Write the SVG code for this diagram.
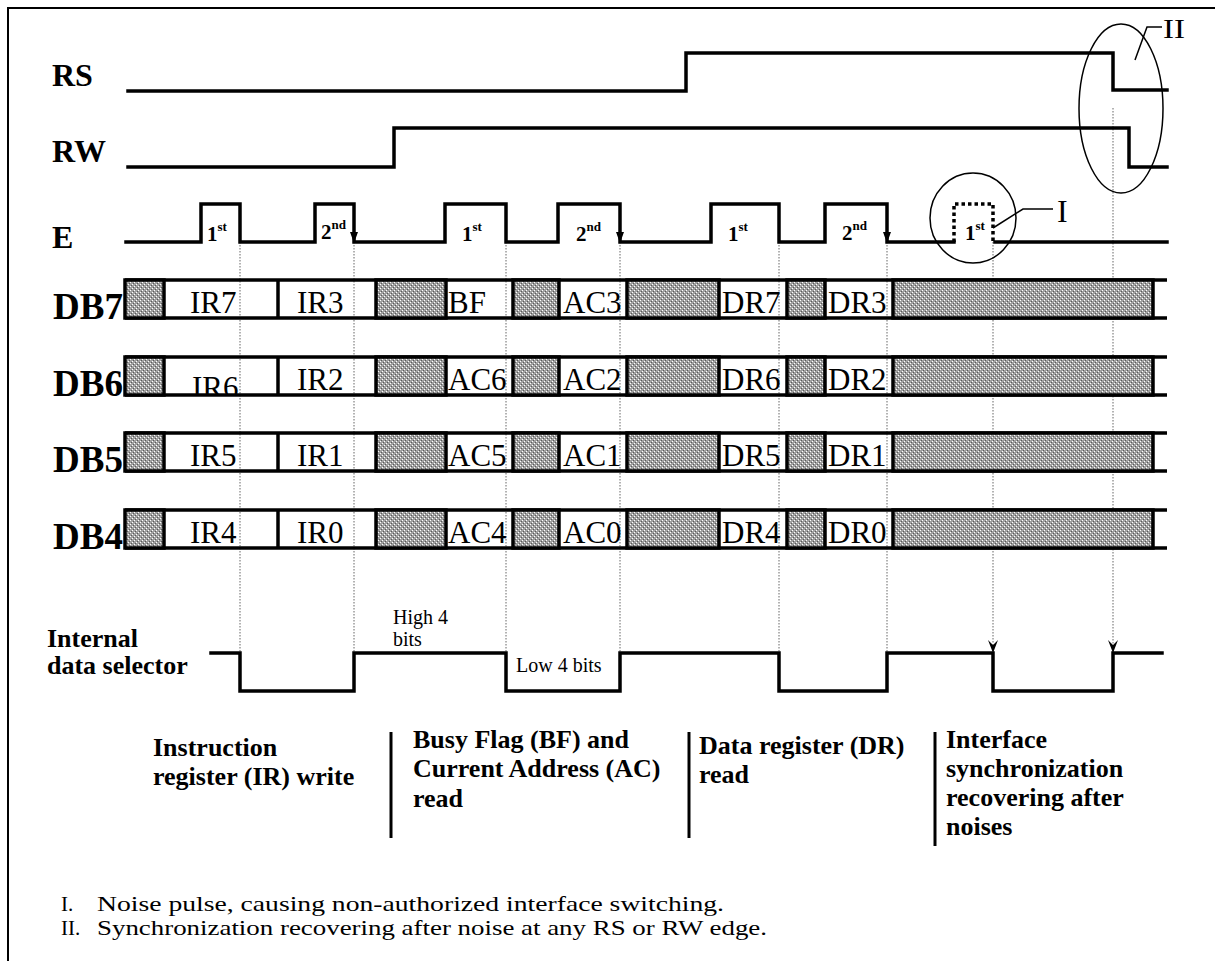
<svg xmlns="http://www.w3.org/2000/svg" xmlns:xlink="http://www.w3.org/1999/xlink" width="1215" height="961" viewBox="0 0 1215 961">
<style>
.sig{fill:none;stroke:#000;stroke-width:3.5;stroke-linejoin:miter;stroke-linecap:square}
.bus{stroke:#000;stroke-width:3.5}
.hatch{fill:url(#hatch);stroke:#000;stroke-width:3.5}
.guide{fill:none;stroke:#666;stroke-width:1;stroke-dasharray:1.5 1.5}
.lbl{font-family:"Liberation Serif","Times New Roman",serif;font-weight:bold;font-size:32px;fill:#000}
.dbl{font-family:"Liberation Serif","Times New Roman",serif;font-weight:bold;font-size:37px;fill:#000}
.bt{font-family:"Liberation Serif","Times New Roman",serif;font-size:31px;fill:#000}
.pn{font-family:"Liberation Serif","Times New Roman",serif;font-weight:bold;font-size:21px;fill:#000}
.ps{font-size:13px}
.sm{font-family:"Liberation Serif","Times New Roman",serif;font-size:20px;fill:#000}
.cap{font-family:"Liberation Serif","Times New Roman",serif;font-weight:bold;font-size:26px;fill:#000}
.leg{font-family:"Liberation Serif","Times New Roman",serif;font-size:21px;fill:#000}
.ann{fill:none;stroke:#000;stroke-width:1.5}
.bar{stroke:#000;stroke-width:3}
</style>
<defs>
<pattern id="hatch" width="4" height="4" patternUnits="userSpaceOnUse">
<rect width="4" height="4" fill="#a0a0a0"/>
<rect x="0" y="0" width="1" height="1" fill="#fff"/>
<rect x="2" y="2" width="1" height="1" fill="#fff"/>
<rect x="1" y="3" width="1" height="1" fill="#5a5a5a"/>
<rect x="3" y="1" width="1" height="1" fill="#5a5a5a"/>
</pattern>
<polygon id="ahE" points="-4,-10 4,-10 0,1" fill="#000"/>
<marker id="vArrow" viewBox="-6 -14 12 15" markerWidth="12" markerHeight="15" refX="0" refY="0" orient="0" markerUnits="userSpaceOnUse">
<path d="M-5,-13 L0,-8 L5,-13 L0,0 Z" fill="#000"/>
</marker>
<g id="busframe">
<line class="bus" x1="125" y1="0" x2="1167" y2="0"/>
<line class="bus" x1="125" y1="38" x2="1167" y2="38"/>
<rect class="hatch" x="125" y="0" width="39" height="38"/>
<rect class="hatch" x="376" y="0" width="70" height="38"/>
<rect class="hatch" x="513" y="0" width="46" height="38"/>
<rect class="hatch" x="627" y="0" width="92" height="38"/>
<rect class="hatch" x="787" y="0" width="38" height="38"/>
<rect class="hatch" x="893" y="0" width="260" height="38"/>
<line class="bus" x1="278" y1="0" x2="278" y2="38"/>
</g>
<clipPath id="clip6"><rect x="125" y="357" width="1042" height="38"/></clipPath>
</defs>

<path d="M8,961 V8 H1215" fill="none" stroke="#000" stroke-width="2"/>

<g id="connectors">
<line class="guide" x1="240" y1="242" x2="240" y2="653"/>
<line class="guide" x1="354" y1="242" x2="354" y2="653"/>
<line class="guide" x1="506" y1="242" x2="506" y2="653"/>
<line class="guide" x1="620" y1="242" x2="620" y2="653"/>
<line class="guide" x1="779" y1="242" x2="779" y2="653"/>
<line class="guide" x1="887" y1="242" x2="887" y2="653"/>
<line class="guide" x1="993" y1="242" x2="993" y2="653" marker-end="url(#vArrow)"/>
<line class="guide" x1="1113" y1="108" x2="1113" y2="653" marker-end="url(#vArrow)"/>
</g>

<g id="sig-rs">
<text class="lbl" x="52" y="86">RS</text>
<path class="sig" d="M128,91 H686 V53 H1113 V90 H1167"/>
</g>
<g id="sig-rw">
<text class="lbl" x="52" y="162">RW</text>
<path class="sig" d="M128,167 H394 V128 H1129 V167 H1167"/>
</g>
<g id="sig-e">
<text class="lbl" x="52" y="248">E</text>
<path class="sig" d="M126,242 H201 V204 H240 V242 H315 V204 H354 V242 H445 V204 H506 V242 H558 V204 H620 V242 H711 V204 H779 V242 H825 V204 H887 V242 H954"/>
<path d="M954,242 V204 H993 V242" fill="none" stroke="#000" stroke-width="3.5" stroke-dasharray="3.5 3"/>
<path class="sig" d="M995,242 H1167"/>
<use xlink:href="#ahE" x="354" y="242"/>
<use xlink:href="#ahE" x="620" y="242"/>
<use xlink:href="#ahE" x="887" y="242"/>
<text class="pn" x="207" y="241">1<tspan class="ps" dy="-10">st</tspan></text>
<text class="pn" x="321" y="239">2<tspan class="ps" dy="-10">nd</tspan></text>
<text class="pn" x="462" y="241">1<tspan class="ps" dy="-10">st</tspan></text>
<text class="pn" x="576" y="241">2<tspan class="ps" dy="-10">nd</tspan></text>
<text class="pn" x="728" y="241">1<tspan class="ps" dy="-10">st</tspan></text>
<text class="pn" x="842" y="240">2<tspan class="ps" dy="-10">nd</tspan></text>
<text class="pn" x="965" y="240">1<tspan class="ps" dy="-10">st</tspan></text>
</g>

<g id="db7">
<text class="dbl" x="53" y="319">DB7</text>
<use xlink:href="#busframe" y="280"/>
<text class="bt" x="190" y="313">IR7</text>
<text class="bt" x="297" y="313">IR3</text>
<text class="bt" x="448" y="313">BF</text>
<text class="bt" x="563" y="313">AC3</text>
<text class="bt" x="722" y="313">DR7</text>
<text class="bt" x="828" y="313">DR3</text>
</g>
<g id="db6">
<text class="dbl" x="53" y="396">DB6</text>
<use xlink:href="#busframe" y="357"/>
<text class="bt" x="192" y="398" clip-path="url(#clip6)">IR6</text>
<text class="bt" x="297" y="390">IR2</text>
<text class="bt" x="448" y="390">AC6</text>
<text class="bt" x="563" y="390">AC2</text>
<text class="bt" x="722" y="390">DR6</text>
<text class="bt" x="828" y="390">DR2</text>
</g>
<g id="db5">
<text class="dbl" x="53" y="472">DB5</text>
<use xlink:href="#busframe" y="433"/>
<text class="bt" x="190" y="466">IR5</text>
<text class="bt" x="297" y="466">IR1</text>
<text class="bt" x="448" y="466">AC5</text>
<text class="bt" x="563" y="466">AC1</text>
<text class="bt" x="722" y="466">DR5</text>
<text class="bt" x="828" y="466">DR1</text>
</g>
<g id="db4">
<text class="dbl" x="53" y="549">DB4</text>
<use xlink:href="#busframe" y="510"/>
<text class="bt" x="190" y="543">IR4</text>
<text class="bt" x="297" y="543">IR0</text>
<text class="bt" x="448" y="543">AC4</text>
<text class="bt" x="563" y="543">AC0</text>
<text class="bt" x="722" y="543">DR4</text>
<text class="bt" x="828" y="543">DR0</text>
</g>

<g id="sel">
<text class="cap" x="47" y="647">Internal</text>
<text class="cap" x="47" y="674">data selector</text>
<path class="sig" d="M211,653 H240 V691 H354 V653 H506 V691 H620 V653 H779 V691 H887 V653 H993 V691 H1113 V653 H1162"/>
<text class="sm" x="393" y="624">High 4</text>
<text class="sm" x="393" y="646">bits</text>
<text class="sm" x="516" y="672">Low 4 bits</text>
</g>

<g id="note-I">
<ellipse class="ann" cx="973" cy="218" rx="43" ry="45"/>
<path class="ann" d="M993,228 L1023,209 H1053"/>
<text class="lbl" x="1057" y="222" style="font-weight:normal;font-size:32px">I</text>
</g>
<g id="note-II">
<ellipse class="ann" cx="1121" cy="108.5" rx="42" ry="84.5"/>
<path class="ann" d="M1135,60 L1147,27 H1162"/>
<text class="lbl" x="1163" y="38" style="font-weight:normal;font-size:27px" textLength="22" lengthAdjust="spacingAndGlyphs">II</text>
</g>

<g id="modes">
<text class="cap" x="153" y="756">Instruction</text>
<text class="cap" x="153" y="785">register (IR) write</text>
<line class="bar" x1="391" y1="732" x2="391" y2="838"/>
<text class="cap" x="413" y="748">Busy Flag (BF) and</text>
<text class="cap" x="413" y="777">Current Address (AC)</text>
<text class="cap" x="413" y="807">read</text>
<line class="bar" x1="689" y1="732" x2="689" y2="838"/>
<text class="cap" x="699" y="754">Data register (DR)</text>
<text class="cap" x="699" y="783">read</text>
<line class="bar" x1="935" y1="732" x2="935" y2="846"/>
<text class="cap" x="946" y="748">Interface</text>
<text class="cap" x="946" y="777">synchronization</text>
<text class="cap" x="946" y="806">recovering after</text>
<text class="cap" x="946" y="835">noises</text>
</g>

<g id="legend">
<text class="leg" x="61" y="911">I.</text>
<text class="leg" x="97" y="911" textLength="627" lengthAdjust="spacingAndGlyphs">Noise pulse, causing non-authorized interface switching.</text>
<text class="leg" x="61" y="935">II.</text>
<text class="leg" x="97" y="935" textLength="670" lengthAdjust="spacingAndGlyphs">Synchronization recovering after noise at any RS or RW edge.</text>
</g>
</svg>
